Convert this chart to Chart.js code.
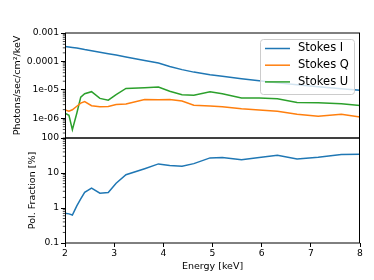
<!DOCTYPE html>
<html><head><meta charset="utf-8">
<script src="https://cdn.jsdelivr.net/npm/chart.js@4/dist/chart.umd.min.js"></script>
<style>
html,body{margin:0;padding:0;background:#fff;}
#wrap{position:relative;width:374px;height:280px;}
canvas{position:absolute;left:0;top:0;}
</style></head><body>
<div id="wrap"><canvas id="c1" width="374" height="280"></canvas><canvas id="c2" width="374" height="280"></canvas></div>
<script>
const energy = [2.0, 2.08, 2.15, 2.24, 2.32, 2.40, 2.54, 2.71, 2.88, 3.04, 3.24, 3.62, 3.90, 4.13, 4.38, 4.62, 4.95, 5.20, 5.59, 5.95, 6.32, 6.72, 7.15, 7.62, 8.0];
const stokesI = [3.33e-4, 3.20e-4, 3.10e-4, 2.95e-4, 2.79e-4, 2.61e-4, 2.37e-4, 2.11e-4, 1.87e-4, 1.67e-4, 1.44e-4, 1.08e-4, 8.7e-5, 6.65e-5, 5.13e-5, 4.19e-5, 3.39e-5, 2.97e-5, 2.43e-5, 2.06e-5, 1.75e-5, 1.50e-5, 1.29e-5, 1.09e-5, 9.7e-6];
const stokesQ = [1.95e-6, 1.75e-6, 1.98e-6, 2.63e-6, 3.37e-6, 3.86e-6, 2.74e-6, 2.53e-6, 2.57e-6, 3.03e-6, 3.18e-6, 4.58e-6, 4.47e-6, 4.54e-6, 4.02e-6, 2.86e-6, 2.68e-6, 2.53e-6, 2.15e-6, 1.95e-6, 1.75e-6, 1.37e-6, 1.17e-6, 1.37e-6, 1.10e-6];
const stokesU = [1.49e-6, 1.26e-6, 3.9e-7, 1.49e-6, 5.48e-6, 7.28e-6, 8.57e-6, 4.97e-6, 4.30e-6, 6.71e-6, 1.11e-5, 1.19e-5, 1.26e-5, 8.93e-6, 6.71e-6, 6.44e-6, 8.57e-6, 7.28e-6, 5.13e-6, 5.13e-6, 4.85e-6, 3.59e-6, 3.50e-6, 3.23e-6, 2.81e-6];
const polFraction = [0.71, 0.68, 0.63, 1.15, 1.82, 2.81, 3.71, 2.66, 2.77, 5.1, 8.93, 13.3, 18.2, 16.5, 15.5, 18.5, 27, 27.5, 24.1, 27.9, 32, 25.2, 28.1, 33.6, 34.2];
const seriesNames = ['Stokes I', 'Stokes Q', 'Stokes U'];
const fluxTicks = [1e-6, 1e-5, 1e-4, 1e-3];
const fluxTickLabels = ['1e-06', '1e-05', '0.0001', '0.001'];
const polTicks = [0.1, 1, 10, 100];
const polTickLabels = ['0.1', '1', '10', '100'];
const energyTicks = [2, 3, 4, 5, 6, 7, 8];
const energyTickLabels = ['2', '3', '4', '5', '6', '7', '8'];

const FONT = 'DejaVu Sans';
const colors = ['#1f77b4', '#ff7f0e', '#2ca02c'];
const pts = arr => energy.map((e, i) => ({x: e, y: arr[i]}));
const labelFor = (ticks, labels) => v => {
  const i = ticks.findIndex(t => Math.abs(Math.log10(t) - Math.log10(v)) < 1e-6);
  return i >= 0 ? labels[i] : '';
};

const framePlugin = {
  id: 'frame',
  afterDatasetsDraw(chart, args, opts) {
    const {ctx, chartArea: a} = chart;
    ctx.save();
    // minor ticks on log y
    const ys = chart.scales.y;
    ctx.strokeStyle = '#000';
    ctx.lineWidth = 0.7;
    for (let d = Math.floor(Math.log10(ys.min)); d <= Math.ceil(Math.log10(ys.max)); d++) {
      for (let k = 2; k <= 9; k++) {
        const v = k * Math.pow(10, d);
        if (v < ys.min || v > ys.max) continue;
        const py = ys.getPixelForValue(v);
        ctx.beginPath();
        ctx.moveTo(a.left - 2.2, py);
        ctx.lineTo(a.left, py);
        ctx.stroke();
      }
    }
    ctx.lineWidth = 1;
    ctx.strokeStyle = '#000';
    ctx.beginPath();
    ctx.moveTo(a.left + 0.5, a.top); ctx.lineTo(a.left + 0.5, a.bottom);
    ctx.moveTo(a.right - 0.5, a.top); ctx.lineTo(a.right - 0.5, a.bottom);
    ctx.stroke();
    ctx.beginPath();
    ctx.moveTo(a.left, a.top); ctx.lineTo(a.right, a.top);
    ctx.moveTo(a.left, a.bottom); ctx.lineTo(a.right, a.bottom);
    ctx.stroke();
    if (opts && opts.legend) {
      const x0 = 260.5, y0 = 39.5, w = 94, h = 55, r = 3;
      ctx.beginPath();
      ctx.moveTo(x0 + r, y0);
      ctx.arcTo(x0 + w, y0, x0 + w, y0 + h, r);
      ctx.arcTo(x0 + w, y0 + h, x0, y0 + h, r);
      ctx.arcTo(x0, y0 + h, x0, y0, r);
      ctx.arcTo(x0, y0, x0 + w, y0, r);
      ctx.closePath();
      ctx.fillStyle = 'rgba(255,255,255,0.8)';
      ctx.fill();
      ctx.strokeStyle = '#cccccc';
      ctx.lineWidth = 1;
      ctx.stroke();
      chart.data.datasets.forEach((ds, i) => {
        const yy = 48.5 + 16.7 * i;
        ctx.strokeStyle = ds.borderColor;
        ctx.lineWidth = 1.5;
        ctx.beginPath();
        ctx.moveTo(265, yy); ctx.lineTo(290, yy);
        ctx.stroke();
        ctx.fillStyle = '#000';
        ctx.font = '11.5px "' + FONT + '"';
        ctx.textBaseline = 'middle';
        ctx.textAlign = 'left';
        ctx.fillText(ds.label, 298, yy);
      });
    }
    ctx.restore();
  }
};

const baseOpts = {
  responsive: false, animation: false, devicePixelRatio: 1,
};

new Chart(document.getElementById('c1'), {
  type: 'line',
  data: {
    datasets: [stokesI, stokesQ, stokesU].map((arr, i) => ({
      label: seriesNames[i], data: pts(arr), borderColor: colors[i], backgroundColor: colors[i],
      borderWidth: 1.5, pointRadius: 0, tension: 0, fill: false
    }))
  },
  options: Object.assign({}, baseOpts, {
    layout: {padding: {left: 0, top: 33, right: 14, bottom: 142}},
    plugins: {legend: {display: false}, tooltip: {enabled: false}, frame: {legend: true}},
    scales: {
      x: {type: 'linear', min: 2, max: 8, display: false},
      y: {
        type: 'logarithmic', min: 2e-7, max: 1e-3,
        afterBuildTicks: s => { s.ticks = fluxTicks.map(v => ({value: v})); },
        afterFit: s => { s.width = 65; },
        ticks: {callback: labelFor(fluxTicks, fluxTickLabels), font: {family: FONT, size: 9.2}, color: '#000', padding: 2, autoSkip: false},
        grid: {drawOnChartArea: false, tickLength: 4, tickColor: '#000', tickWidth: 1},
        border: {display: false},
        title: {display: true, text: 'Photons/sec/cm²/keV', color: '#000', font: {family: FONT, size: 9.5}, padding: {top: 12, bottom: 0}}
      }
    }
  }),
  plugins: [framePlugin]
});

new Chart(document.getElementById('c2'), {
  type: 'line',
  data: {
    datasets: [{label: 'Pol. Fraction', data: pts(polFraction), borderColor: colors[0], backgroundColor: colors[0], borderWidth: 1.5, pointRadius: 0, tension: 0, fill: false}]
  },
  options: Object.assign({}, baseOpts, {
    layout: {padding: {left: 0, top: 138, right: 14, bottom: 0}},
    plugins: {legend: {display: false}, tooltip: {enabled: false}, frame: {legend: false}},
    scales: {
      x: {
        type: 'linear', min: 2, max: 8,
        afterBuildTicks: s => { s.ticks = energyTicks.map(v => ({value: v})); },
        afterFit: s => { s.height = 37; },
        ticks: {callback: (v) => { const i = energyTicks.indexOf(v); return i >= 0 ? energyTickLabels[i] : ''; }, font: {family: FONT, size: 9.2}, color: '#000', padding: 1, autoSkip: false, maxRotation: 0},
        grid: {drawOnChartArea: false, tickLength: 4, tickColor: '#000', tickWidth: 1},
        border: {display: false},
        title: {display: true, text: 'Energy [keV]', color: '#000', font: {family: FONT, size: 9.5}, padding: {top: 0, bottom: 8}}
      },
      y: {
        type: 'logarithmic', min: 0.1, max: 100,
        afterBuildTicks: s => { s.ticks = polTicks.map(v => ({value: v})); },
        afterFit: s => { s.width = 65; },
        ticks: {callback: labelFor(polTicks, polTickLabels), font: {family: FONT, size: 9.2}, color: '#000', padding: 2, autoSkip: false},
        grid: {drawOnChartArea: false, tickLength: 4, tickColor: '#000', tickWidth: 1},
        border: {display: false},
        title: {display: true, text: 'Pol. Fraction [%]', color: '#000', font: {family: FONT, size: 9.5}, padding: {top: 27, bottom: 0}}
      }
    }
  }),
  plugins: [framePlugin]
});
</script>
</body></html>
